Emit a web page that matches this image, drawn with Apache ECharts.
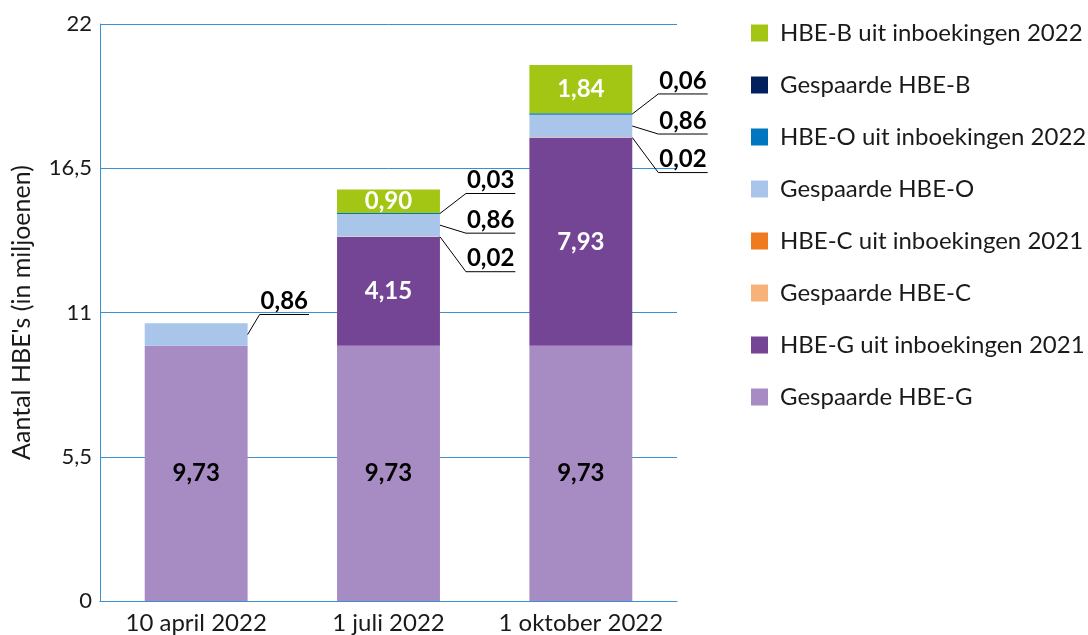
<!DOCTYPE html>
<html>
<head>
<meta charset="utf-8">
<script src="https://cdn.jsdelivr.net/npm/echarts@6/dist/echarts.min.js"></script>
<style>html,body{margin:0;padding:0;background:#fff}#c{width:1088px;height:635px}</style>
</head>
<body>
<div id="c"></div>
<script>
const categories = ['10 april 2022', '1 juli 2022', '1 oktober 2022'];
const gespaardeG = [9.73, 9.73, 9.73];
const uitG = [0, 4.15, 7.93];
const gespaardeC = [0, 0.02, 0.02];
const uitC = [0, 0, 0];
const gespaardeO = [0.86, 0.86, 0.86];
const uitO = [0, 0.03, 0.06];
const gespaardeB = [0, 0, 0];
const uitB = [0, 0.90, 1.84];
const yTicks = [0, 5.5, 11, 16.5, 22];

const FONT = 'Lato';
const LABEL_SIZE = 24;
const BAR_FRAC = 0.535;
const fmt = v => v.toFixed(2).replace('.', ',');

// stacking order, bottom to top
const stackDefs = [
  { name: 'Gespaarde HBE-G', data: gespaardeG, color: '#a78bc3', label: '#000' },
  { name: 'HBE-G uit inboekingen 2021', data: uitG, color: '#744595', label: '#fff' },
  { name: 'Gespaarde HBE-C', data: gespaardeC, color: '#f7b27a', leader: [[26, 35], [26, 35], [26, 35]] },
  { name: 'HBE-C uit inboekingen 2021', data: uitC, color: '#ef7b21', label: '#fff' },
  { name: 'Gespaarde HBE-O', data: gespaardeO, color: '#a9c5ea', leader: [[12, -20], [26, 8], [26, 8]] },
  { name: 'HBE-O uit inboekingen 2022', data: uitO, color: '#0076c0', leader: [[26, -20], [26, -20], [26, -20]] },
  { name: 'Gespaarde HBE-B', data: gespaardeB, color: '#01205c', label: '#fff' },
  { name: 'HBE-B uit inboekingen 2022', data: uitB, color: '#a3c614', label: '#fff' }
];

const series = stackDefs.map(d => ({
  name: d.name, type: 'bar', stack: 'total', barWidth: (BAR_FRAC * 100) + '%',
  data: d.data.map(v => ({ value: v, label: { show: !d.leader && v > 0 } })),
  itemStyle: { color: d.color },
  label: { position: 'inside', color: d.label || '#000', fontFamily: FONT, fontWeight: 'bold',
    fontSize: LABEL_SIZE, formatter: p => fmt(p.value) }
}));

const chart = echarts.init(document.getElementById('c'));
chart.setOption({
  animation: false,
  backgroundColor: '#fff',
  textStyle: { fontFamily: FONT },
  grid: { left: 100, right: 411, top: 24, bottom: 34, containLabel: false },
  legend: {
    orient: 'vertical', left: 746, top: 16, itemWidth: 17, itemHeight: 17, itemGap: 28,
    icon: 'rect',
    data: ['HBE-B uit inboekingen 2022', 'Gespaarde HBE-B', 'HBE-O uit inboekingen 2022', 'Gespaarde HBE-O',
      'HBE-C uit inboekingen 2021', 'Gespaarde HBE-C', 'HBE-G uit inboekingen 2021', 'Gespaarde HBE-G'],
    textStyle: { fontFamily: FONT, fontSize: 24, lineHeight: 24, color: '#1a1a1a', padding: [0, 0, 0, 7] },
    selectedMode: false
  },
  xAxis: {
    type: 'category', data: categories,
    axisLine: { show: true, lineStyle: { color: '#3b8ed0', width: 1 } },
    axisTick: { show: false },
    axisLabel: { color: '#1a1a1a', fontFamily: FONT, fontSize: 24, margin: 10, interval: 0 }
  },
  yAxis: {
    type: 'value', min: yTicks[0], max: yTicks[yTicks.length - 1], interval: yTicks[1] - yTicks[0],
    name: "Aantal HBE's (in miljoenen)", nameLocation: 'middle', nameGap: 66,
    nameTextStyle: { color: '#1a1a1a', fontFamily: FONT, fontSize: 25 },
    axisLine: { show: true, lineStyle: { color: '#3b8ed0', width: 1 } },
    axisTick: { show: false },
    splitLine: { show: true, lineStyle: { color: '#3b8ed0', width: 1 } },
    axisLabel: { color: '#1a1a1a', fontFamily: FONT, fontSize: 22, margin: 8,
      formatter: v => String(v).replace('.', ',') }
  },
  series
});

// Leader lines + underlined labels, positioned through the chart's own scales
(function drawLeaders() {
  const ctx = document.createElement('canvas').getContext('2d');
  const font = 'bold ' + LABEL_SIZE + 'px ' + FONT;
  ctx.font = font;
  const c0 = chart.convertToPixel({ gridIndex: 0 }, [0, 0]);
  const c1 = chart.convertToPixel({ gridIndex: 0 }, [1, 0]);
  const barW = (c1[0] - c0[0]) * BAR_FRAC;
  const elements = [];
  categories.forEach((cat, i) => {
    let base = 0;
    stackDefs.forEach(d => {
      const v = d.data[i];
      const top = base + v;
      if (d.leader && v > 0) {
        const o = d.leader[i];
        const pc = chart.convertToPixel({ gridIndex: 0 }, [i, (base + top) / 2]);
        const ax = pc[0] + barW / 2, ay = pc[1];
        const ex = ax + o[0], ey = ay + o[1];
        const txt = fmt(v);
        const w = ctx.measureText(txt).width + 2;
        elements.push({
          type: 'polyline', silent: true, z: 100,
          shape: { points: [[ax, ay], [ex, ey], [ex + w, ey]] },
          style: { stroke: '#000', lineWidth: 1, fill: null }
        });
        elements.push({
          type: 'text', silent: true, z: 100,
          style: { text: txt, x: ex + 1, y: ey - 1, font: font, fill: '#000',
            textAlign: 'left', textVerticalAlign: 'bottom' }
        });
      }
      base = top;
    });
  });
  chart.setOption({ graphic: elements });
})();
</script>
</body>
</html>
